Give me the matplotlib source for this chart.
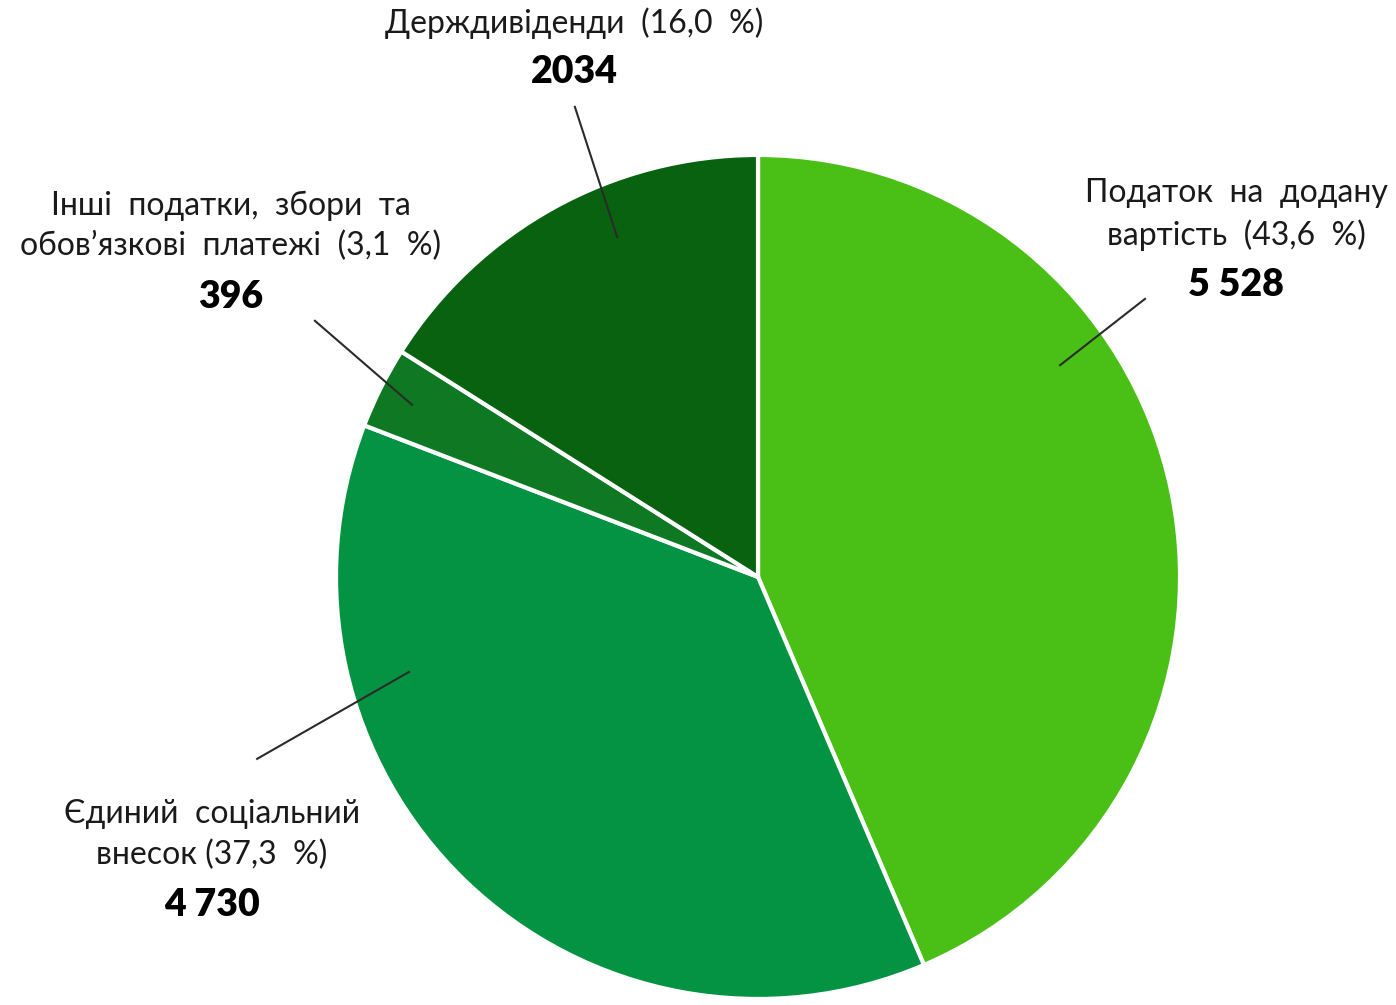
import matplotlib.pyplot as plt

# Дані
labels = ["Податок  на  додану\nвартість  (43,6  %)",
          "Єдиний  соціальний\nвнесок (37,3  %)",
          "Інші  податки,  збори  та\nобов’язкові  платежі  (3,1  %)",
          "Держдивіденди  (16,0  %)"]
values = [5528, 4730, 396, 2034]
value_text = ["5 528", "4 730", "396", "2034"]
colors = ["#4AC017", "#039342", "#0E7823", "#08620F"]

# Розміщення підписів (координати осей, радіус = 1)
line_from = [(0.716, 0.502), (-0.827, -0.225), (-0.820, 0.408), (-0.334, 0.806)]
line_to = [(0.917, 0.659), (-1.187, -0.431), (-1.050, 0.607), (-0.434, 1.114)]
label_pos = [(1.133, 0.859), (-1.294, -0.610), (-1.249, 0.832), (-0.436, 1.313)]
value_pos = [(1.133, 0.692), (-1.294, -0.777), (-1.249, 0.664), (-0.436, 1.197)]

fig = plt.figure(figsize=(13.96, 10.05), dpi=100)
ax = fig.add_axes([0.2407, 0.006, 0.6046, 0.8398])
ax.pie(values, colors=colors, startangle=90, counterclock=False,
       wedgeprops=dict(edgecolor="white", linewidth=3))
ax.set_xlim(-1, 1)
ax.set_ylim(-1, 1)
ax.set_aspect("equal")
ax.axis("off")

for i in range(len(values)):
    ax.plot([line_from[i][0], line_to[i][0]], [line_from[i][1], line_to[i][1]],
            color="#2b2b2b", lw=1.5, clip_on=False)
    ax.text(label_pos[i][0], label_pos[i][1], labels[i], ha="center", va="center",
            fontsize=23, family="Lato", fontweight="normal", color="#1a1a1a",
            linespacing=1.42, clip_on=False)
    ax.text(value_pos[i][0], value_pos[i][1], value_text[i], ha="center", va="center",
            fontsize=27, family="Lato", fontweight="heavy", color="black", clip_on=False)

fig.savefig("out.png", dpi=100)
